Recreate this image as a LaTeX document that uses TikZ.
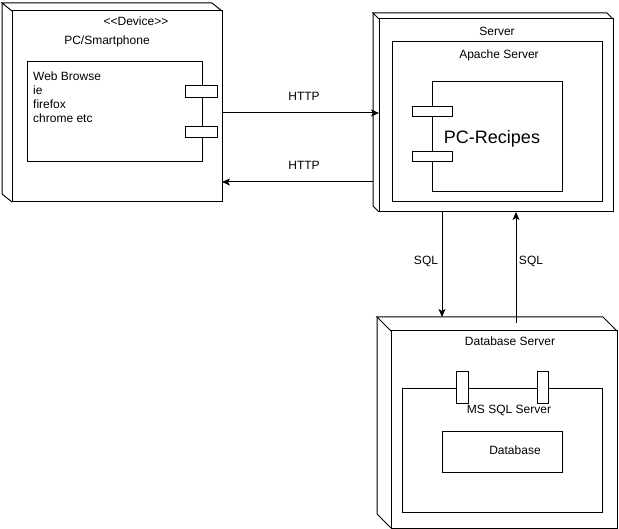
\documentclass[tikz,border=0pt]{standalone}
\usepackage{fontspec}
\newfontfamily\labelfont{Liberation Sans}
\usetikzlibrary{fit,calc,arrows.meta}
\tikzset{
  frame/.style={draw, fill=white, inner sep=0pt, outer sep=0pt, line width=1pt},
  lbl/.style={inner sep=0pt, font=\labelfont\fontsize{12}{14}\selectfont},
  conn/.style={line width=1pt, -{Stealth[length=8pt,width=7pt,inset=2pt]}},
  edge3d/.style={line width=1pt, line join=miter},
}
% top and left faces of a UML node drawn behind its front face
\newcommand\depthbox[3]{%
  \draw[edge3d] (#1.north west) -- ++(-#2,-#3) -- ($(#1.north east)+(-#2,-#3)$) -- (#1.north east);
  \draw[edge3d] ($(#1.north west)+(-#2,-#3)$) -- ($(#1.south west)+(-#2,-#3)$) -- (#1.south west);
}
\begin{document}
\begin{tikzpicture}[x=1pt,y=-1pt]
\fill[white] (0,0) rectangle (619,529);
\useasboundingbox (0,0) rectangle (619,529);

% ---- client device ----
\node[frame, fit={(12,11) (222,202)}] (dev) {};
\depthbox{dev}{10}{8}
\node[lbl] (devstereo) at (136,21) {<<Device>>};
\node[lbl] (devname) at (107,41) {PC/Smartphone};
\node[frame, fit={(27,62) (202,162)}] (browser) {};
\node[frame, fit={(185,86) (217,98)}] (bport1) {};
\node[frame, fit={(185,127) (217,138)}] (bport2) {};
\node[lbl, anchor=west, align=left] (browsertext) at (33,97) {Web Browse\\ie\\firefox\\chrome etc};

% ---- application server ----
\node[frame, fit={(379,19) (613,212)}] (srv) {};
\depthbox{srv}{6}{6}
\node[lbl] (srvname) at (497,31) {Server};
\node[frame, fit={(392,42) (602,202)}] (apache) {};
\node[lbl] (apachename) at (499,55) {Apache Server};
\node[frame, fit={(432,82) (562,192)}] (app) {};
\node[frame, fit={(412,107) (452,117)}] (aport1) {};
\node[frame, fit={(412,152) (452,162)}] (aport2) {};
\node[inner sep=0pt, font=\labelfont\fontsize{18}{20}\selectfont] (appname) at (492,138.5) {PC-Recipes};

% ---- database server ----
\node[frame, fit={(391,331) (617,528)}] (db) {};
\depthbox{db}{14}{14}
\node[lbl] (dbname) at (510,341) {Database Server};
\node[frame, fit={(402,389) (602,512)}] (mssql) {};
\node[frame, fit={(456,372) (468,404)}] (dport1) {};
\node[frame, fit={(537,372) (548,404)}] (dport2) {};
\node[lbl] (mssqlname) at (509,410) {MS SQL Server};
\node[frame, fit={(442,432) (562,472)}] (database) {};
\node[lbl] (databasename) at (515,450) {Database};

% ---- connectors ----
\coordinate (req) at (0,113);
\coordinate (resp) at (0,182);
\coordinate (sqldown) at (442,0);
\coordinate (sqlup) at (516,0);
\coordinate (srvback) at ($(srv.west)+(-6,0)$);
\coordinate (dbback) at ($(db.north)+(0,-14)$);
\coordinate (dbstart) at ($(db.north)+(0,-8)$);

\draw[conn] (dev.east |- req) -- (srv.west |- req);
\draw[conn] (srvback |- resp) -- (dev.east |- resp);
\draw[conn] (srv.south -| sqldown) -- (dbback -| sqldown);
\draw[conn] (dbstart -| sqlup) -- (srv.south -| sqlup);

\node[lbl] (http1) at (304,96) {HTTP};
\node[lbl] (http2) at (304,165) {HTTP};
\node[lbl] (sql1) at (426,261) {SQL};
\node[lbl] (sql2) at (531,261) {SQL};
\end{tikzpicture}
\end{document}
